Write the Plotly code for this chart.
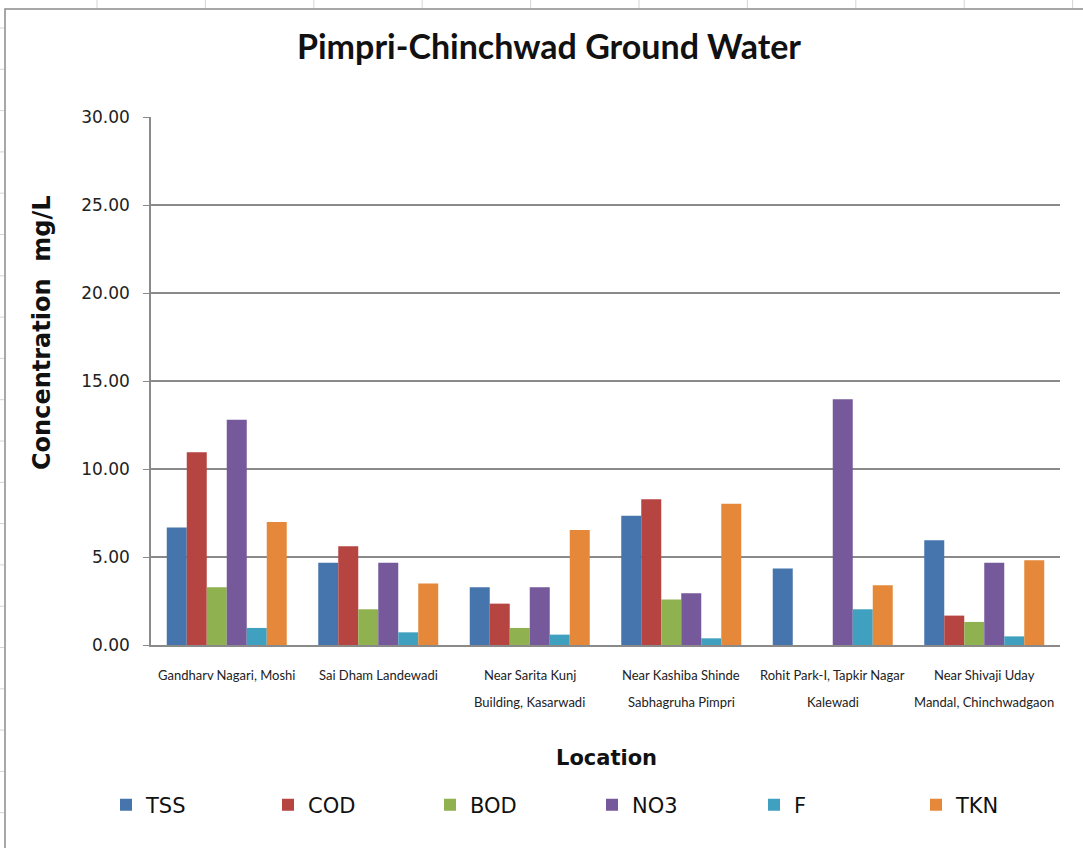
import plotly.graph_objects as go

# Sampling locations (two-line names are split with <br>)
locations = [
    "Gandharv Nagari, Moshi",
    "Sai Dham Landewadi",
    "Near Sarita Kunj<br>Building, Kasarwadi",
    "Near Kashiba Shinde<br>Sabhagruha Pimpri",
    "Rohit Park-I, Tapkir Nagar<br>Kalewadi",
    "Near Shivaji Uday<br>Mandal, Chinchwadgaon",
]

# Concentrations in mg/L (None = not reported)
tss = [6.67, 4.68, 3.28, 7.35, 4.34, 5.95]
cod = [10.95, 5.61, 2.35, 8.28, None, 1.67]
bod = [3.28, 2.03, 0.97, 2.59, None, 1.31]
no3 = [12.80, 4.68, 3.28, 2.94, 13.96, 4.68]
f_ = [0.97, 0.72, 0.59, 0.38, 2.03, 0.49]
tkn = [6.99, 3.50, 6.53, 8.03, 3.39, 4.81]

series_names = ["TSS", "COD", "BOD", "NO3", "F", "TKN"]
series_values = [tss, cod, bod, no3, f_, tkn]
series_colors = ["#4674AD", "#B64542", "#8FB150", "#76599B", "#3FA1BF", "#E58839"]

y_ticks = [0, 5, 10, 15, 20, 25, 30]

W, H = 1083, 848
L, R, T, B = 151, 23, 117, 203
PW, PH = W - L - R, H - T - B


def px_x(px):
    return (px - L) / PW


def px_y(py):
    return (H - B - py) / PH


fig = go.Figure()
for name, vals, col in zip(series_names, series_values, series_colors):
    fig.add_trace(go.Bar(name=name, x=locations, y=vals,
                         marker=dict(color=col, line=dict(width=0))))

annotations = []
# Category labels, one annotation per text line
for loc in locations:
    lines = loc.split("<br>")
    for i, line in enumerate(lines):
        annotations.append(dict(
            x=loc, xref="x", y=px_y(675 + 27 * i), yref="paper",
            text=line, showarrow=False, xanchor="center", yanchor="middle",
            font=dict(family="Lato", size=13, color="#222222")))

# Axis titles
annotations.append(dict(
    x=px_x(42), y=px_y(333), xref="paper", yref="paper",
    text="<b>Concentration  mg/L</b>", textangle=-90, showarrow=False,
    xanchor="center", yanchor="middle",
    font=dict(family="DejaVu Sans", size=24, color="#111111")))
annotations.append(dict(
    x=px_x(606), y=px_y(758), xref="paper", yref="paper",
    text="<b>Location</b>", showarrow=False, xanchor="center", yanchor="middle",
    font=dict(family="DejaVu Sans", size=21, color="#111111")))

# Chart frame and faint worksheet cell lines around it
shapes = [dict(type="rect", xref="paper", yref="paper",
               x0=px_x(5), x1=px_x(1110), y0=px_y(870), y1=px_y(9),
               line=dict(color="#8a8a8a", width=1.5), fillcolor="rgba(0,0,0,0)",
               layer="below")]
for k in range(10):
    xp = 97 + 108.4 * k
    shapes.append(dict(type="line", xref="paper", yref="paper",
                       x0=px_x(xp), x1=px_x(xp), y0=px_y(0), y1=px_y(8),
                       line=dict(color="#d4d4d4", width=1)))
for k in range(20):
    yp = 28 + 41.3 * k
    shapes.append(dict(type="line", xref="paper", yref="paper",
                       x0=px_x(0), x1=px_x(4), y0=px_y(yp), y1=px_y(yp),
                       line=dict(color="#d4d4d4", width=1)))

fig.update_layout(
    width=W, height=H,
    margin=dict(l=L, r=R, t=T, b=B),
    paper_bgcolor="white", plot_bgcolor="white",
    barmode="group", bargap=0.208, bargroupgap=0,
    title=dict(text="<b>Pimpri-Chinchwad Ground Water</b>",
               x=px_x(549), xref="paper", xanchor="center",
               y=1 - 47 / H, yref="container", yanchor="middle",
               font=dict(family="Lato", size=34, color="#111111")),
    xaxis=dict(showticklabels=False, showline=True, linecolor="#8a8a8a",
               linewidth=1.5, ticks="", showgrid=False, zeroline=False),
    yaxis=dict(range=[0, 30], tickvals=y_ticks, tickformat=".2f",
               showgrid=True, gridcolor="#8a8a8a", gridwidth=1.5,
               showline=True, linecolor="#8a8a8a", linewidth=1.5,
               ticks="outside", ticklen=6, tickcolor="#8a8a8a",
               ticklabelstandoff=10, zeroline=False,
               tickfont=dict(family="DejaVu Sans", size=17, color="#222222")),
    legend=dict(orientation="h", x=px_x(106), xanchor="left",
                y=px_y(805), yanchor="middle",
                entrywidth=117, entrywidthmode="pixels",
                font=dict(family="DejaVu Sans", size=21, color="#111111"),
                bgcolor="rgba(0,0,0,0)"),
    annotations=annotations,
    shapes=shapes,
)

fig.write_html("out.html")
